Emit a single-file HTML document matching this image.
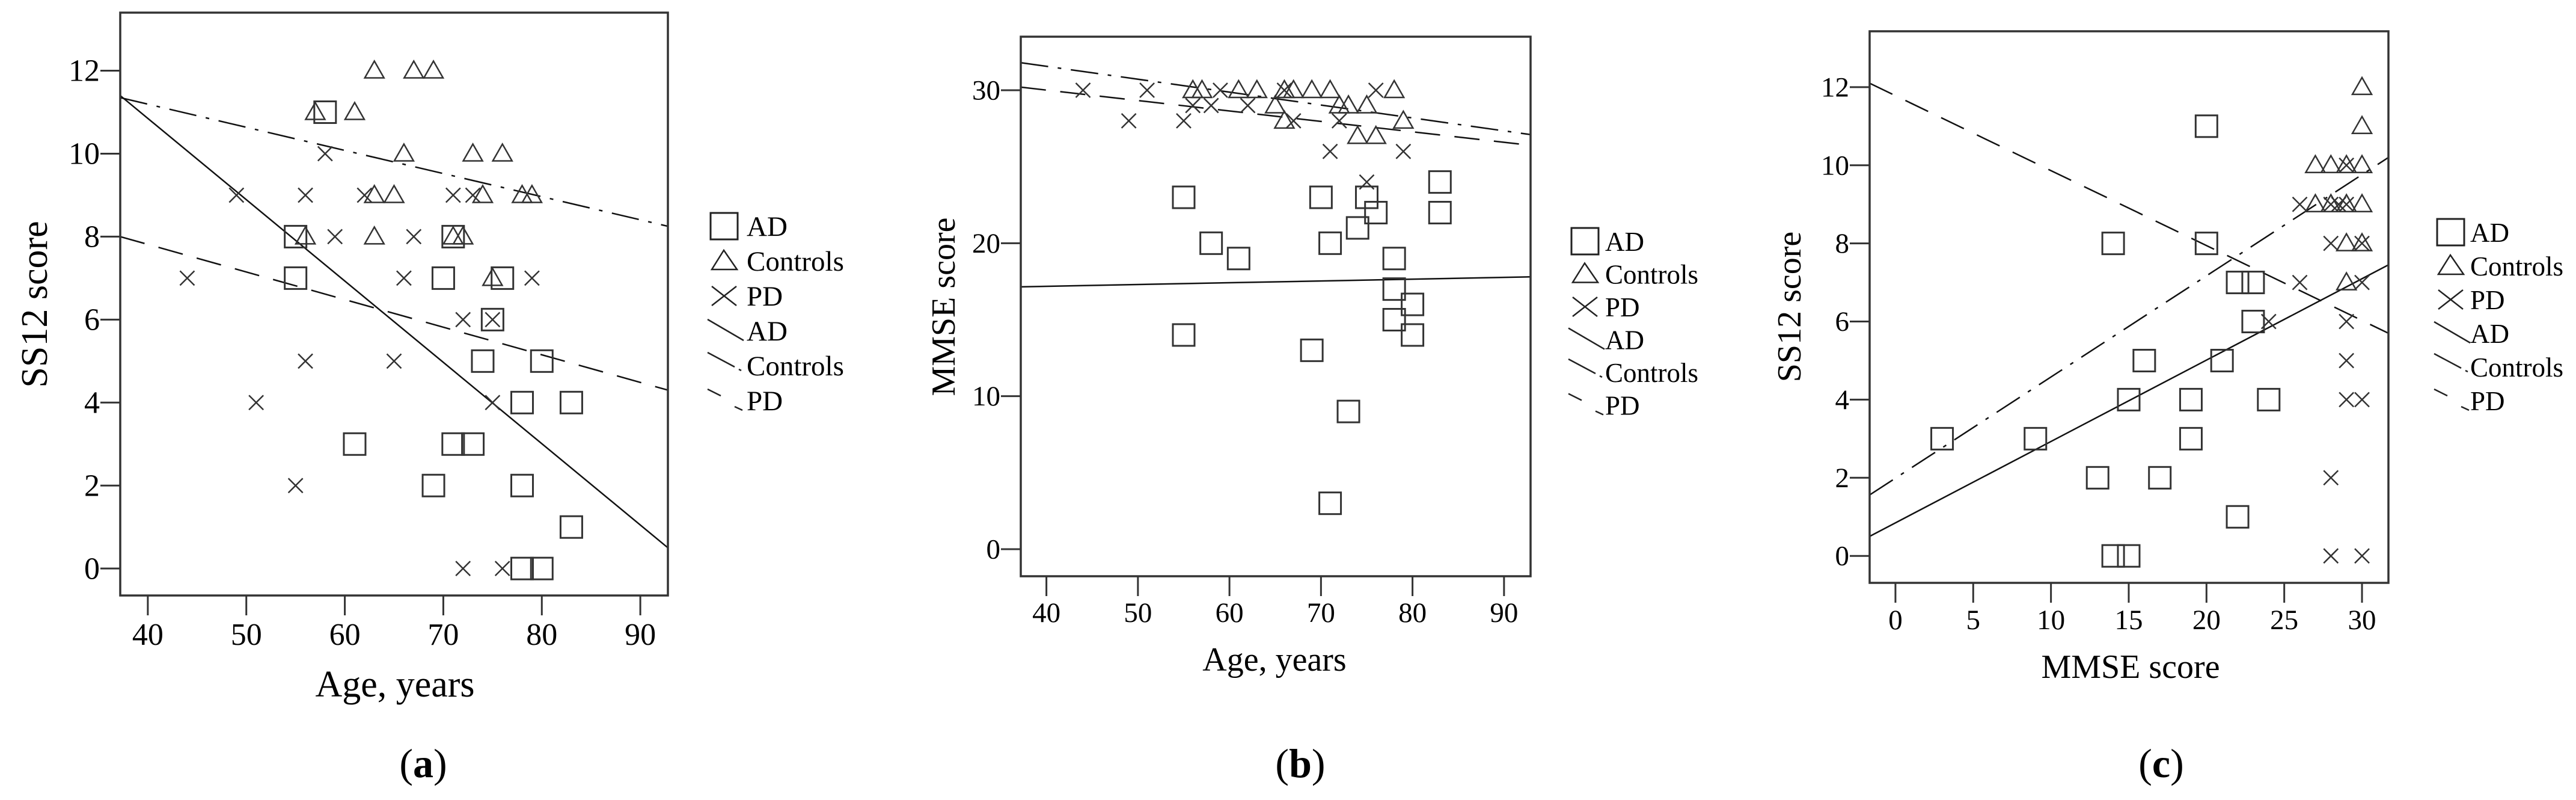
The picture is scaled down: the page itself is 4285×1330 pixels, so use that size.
<!DOCTYPE html>
<html><head><meta charset="utf-8"><style>
html,body{margin:0;padding:0;background:#fff;}
svg text{font-family:"Liberation Serif",serif;fill:#000;}
</style></head><body>
<svg id="fig" xmlns="http://www.w3.org/2000/svg" width="4285" height="1325" viewBox="0 0 4285 1325"></svg>
<script>
// ---------- Panel (a): Age vs SS12 ----------
const aAdX = [58,55,71,55,70,76,75,74,80,78,83,61,71,73,69,78,83,78,80];
const aAdY = [11,8,8,7,7,7,6,5,5,4,4,3,3,3,2,2,1,0,0];
const aCtX = [63,67,69,57,61,66,73,76,63,65,74,78,79,56,63,71,72,75];
const aCtY = [12,12,12,11,11,10,10,10,9,9,9,9,9,8,8,8,8,7];
const aPdX = [58,49,56,62,71,73,59,67,44,66,79,72,75,56,65,51,75,55,72,76];
const aPdY = [10,9,9,9,9,9,8,8,7,7,7,6,6,5,5,4,4,2,0,0];
const aFitAD = [11.4, 0.5];     // y at x-min, x-max
const aFitCt = [11.35, 8.25];
const aFitPd = [8.0, 4.3];
const aXTicks = [40,50,60,70,80,90];
const aYTicks = [0,2,4,6,8,10,12];

// ---------- Panel (b): Age vs MMSE ----------
const bAdX = [55,58,61,55,70,71,69,73,71,74,75,76,78,78,78,80,80,83,83];
const bAdY = [23,20,19,14,23,20,13,9,3,21,23,22,19,17,15,16,14,24,22];
const bCtX = [56,57,61,63,66,67,69,71,78,65,72,73,75,66,79,74,76];
const bCtY = [30,30,30,30,30,30,30,30,30,29,29,29,29,28,28,27,27];
const bPdX = [44,51,59,66,76,56,58,62,49,55,67,72,71,79,75];
const bPdY = [30,30,30,30,30,29,29,29,28,28,28,28,26,26,24];
const bFitAD = [17.15, 17.8];
const bFitCt = [31.8, 27.1];
const bFitPd = [30.2, 26.4];
const bXTicks = [40,50,60,70,80,90];
const bYTicks = [0,10,20,30];

// ---------- Panel (c): MMSE vs SS12 ----------
const cAdX = [3,9,14,15,16,13,17,14,15,19,19,20,20,21,22,22,23,23,24];
const cAdY = [3,3,8,4,5,2,2,0,0,4,3,11,8,5,1,7,7,6,4];
const cCtX = [30,30,27,28,29,30,27,28,29,30,29,30,29];
const cCtY = [12,11,10,10,10,10,9,9,9,9,8,8,7];
const cPdX = [26,28,28.5,29,29,28,30,26,30,24,29,29,29,30,28,28,30];
const cPdY = [9,9,9,9,10,8,8,7,7,6,6,5,4,4,2,0,0];
const cFitAD = [0.5, 7.45];
const cFitCt = [1.56, 10.2];
const cFitPd = [12.1, 5.7];
const cXTicks = [0,5,10,15,20,25,30];
const cYTicks = [0,2,4,6,8,10,12];

const NS = "http://www.w3.org/2000/svg";
const svg = document.getElementById('fig');
function mk(tag, attrs, parent){
  const e = document.createElementNS(NS, tag);
  for (const k in attrs) e.setAttribute(k, attrs[k]);
  (parent||svg).appendChild(e);
  return e;
}
const DASH = "42 24";
const DASHDOT = "46 16 6 16";

function drawPanel(P){
  const g = mk('g', {});
  
  
  const sx = v => P.L + (v - P.xmin) / (P.xmax - P.xmin) * (P.R - P.L);
  const sy = v => P.B - (v - P.ymin) / (P.ymax - P.ymin) * (P.B - P.T);
  // ticks
  P.xt.forEach(t => {
    const l = mk('line', {x1:sx(t), x2:sx(t), y1:P.B, y2:P.B+33, stroke:'#333', 'stroke-width':3}, g);
    
    
    const tx = mk('text', {x:sx(t), y:P.xlb, 'text-anchor':'middle', 'font-size':P.tf}, g);
    tx.textContent = t;
    
    
  });
  P.yt.forEach(t => {
    const l = mk('line', {x1:P.L-33, x2:P.L, y1:sy(t), y2:sy(t), stroke:'#333', 'stroke-width':3}, g);
    
    
    const tx = mk('text', {x:P.L-34, y:sy(t)+P.tf*0.33, 'text-anchor':'end', 'font-size':P.tf}, g);
    tx.textContent = t;
    
    
  });
  // clip
  const cp = mk('clipPath', {id:'clip-'+P.id}, g);
  mk('rect', {x:P.L, y:P.T, width:P.R-P.L, height:P.B-P.T}, cp);
  const pg = mk('g', {'clip-path':'url(#clip-'+P.id+')'}, g);
  
  
  // fit lines
  const fits = [[P.fAD,'none','ad'],[P.fCt,DASHDOT,'controls'],[P.fPd,DASH,'pd']];
  fits.forEach(f => {
    const l = mk('line', {x1:sx(P.xmin), y1:sy(f[0][0]), x2:sx(P.xmax), y2:sy(f[0][1]), stroke:'#111', 'stroke-width':2.5, 'stroke-dasharray':f[1]}, pg);
    
    
  });
  // markers
  P.adX.forEach((x,i) => {
    const s = mk('rect', {x:sx(x)-18, y:sy(P.adY[i])-18, width:36, height:36, fill:'none', stroke:'#333', 'stroke-width':3}, pg);
    
    
  });
  P.ctX.forEach((x,i) => {
    const cx = sx(x), cy = sy(P.ctY[i]);
    const t = mk('polygon', {points:`${cx},${cy-16} ${cx-16},${cy+12} ${cx+16},${cy+12}`, fill:'none', stroke:'#333', 'stroke-width':2.5}, pg);
    
    
  });
  P.pdX.forEach((x,i) => {
    const cx = sx(x), cy = sy(P.pdY[i]);
    const p = mk('path', {d:`M${cx-12},${cy-12}L${cx+12},${cy+12}M${cx+12},${cy-12}L${cx-12},${cy+12}`, stroke:'#333', 'stroke-width':2.5, fill:'none'}, pg);
    
    
  });
  // frame
  const fr = mk('rect', {x:P.L, y:P.T, width:P.R-P.L, height:P.B-P.T, fill:'none', stroke:'#333', 'stroke-width':3.5}, g);
  
  
  // axis titles
  const xt = mk('text', {x:P.xtx, y:P.xty, 'text-anchor':'middle', 'font-size':P.af}, g);
  xt.textContent = P.xTitle;
  
  
  const yt = mk('text', {x:0, y:0, 'text-anchor':'middle', 'font-size':P.af, transform:`translate(${P.ytx},${P.yty}) rotate(-90)`}, g);
  yt.textContent = P.yTitle;
  
  
  // caption
  const cap = mk('text', {x:P.capx, y:1292, 'text-anchor':'middle', 'font-size':68}, g);
  cap.innerHTML = '(<tspan font-weight="bold">' + P.id + '</tspan>)';
  
  
  // legend
  const lg = mk('g', {}, g);
  
  
  const labels = ['AD','Controls','PD','AD','Controls','PD'];
  labels.forEach((lab, i) => {
    const by = P.lgy + i*P.lgs;
    const x0 = P.lgx;
    const cy = by - 16;
    let icon;
    if (i === 0) icon = mk('rect', {x:x0, y:cy-22, width:45, height:44, fill:'none', stroke:'#222', 'stroke-width':3}, lg);
    else if (i === 1) icon = mk('polygon', {points:`${x0+22},${cy-18} ${x0+2},${cy+14} ${x0+44},${cy+14}`, fill:'none', stroke:'#222', 'stroke-width':2.5}, lg);
    else if (i === 2) icon = mk('path', {d:`M${x0+2},${cy-16}L${x0+43},${cy+16}M${x0+43},${cy-16}L${x0+2},${cy+16}`, stroke:'#222', 'stroke-width':2.5}, lg);
    else if (i === 3) icon = mk('line', {x1:x0-5, y1:by-35, x2:x0+55, y2:by, stroke:'#222', 'stroke-width':2.5}, lg);
    else if (i === 4) icon = mk('path', {d:`M${x0-5},${by-38}L${x0+40},${by-14}M${x0+47},${by-10}L${x0+51},${by-8}`, stroke:'#222', 'stroke-width':2.5}, lg);
    else icon = mk('path', {d:`M${x0-5},${by-35}L${x0+17},${by-24}M${x0+40},${by-6}L${x0+53},${by}`, stroke:'#222', 'stroke-width':2.5}, lg);
    
    
    const t = mk('text', {x:P.lgtx, y:by, 'font-size':P.lf}, lg);
    t.textContent = lab;
    
    
  });
}

drawPanel({id:'a', L:200, R:1111, T:21, B:990, xmin:37.2, xmax:92.8, ymin:-0.65, ymax:13.4,
  xt:aXTicks, yt:aYTicks, xlb:1072, tf:52, af:62, xTitle:'Age, years', yTitle:'SS12 score',
  xtx:657, xty:1158, ytx:78, yty:506, capx:704,
  adX:aAdX, adY:aAdY, ctX:aCtX, ctY:aCtY, pdX:aPdX, pdY:aPdY, fAD:aFitAD, fCt:aFitCt, fPd:aFitPd,
  lgx:1182, lgtx:1242, lgy:392, lgs:58, lf:47});
drawPanel({id:'b', L:1698, R:2546, T:61, B:958, xmin:37.2, xmax:92.9, ymin:-1.77, ymax:33.5,
  xt:bXTicks, yt:bYTicks, xlb:1034, tf:47, af:56, xTitle:'Age, years', yTitle:'MMSE score',
  xtx:2120, xty:1115, ytx:1588, yty:510, capx:2163,
  adX:bAdX, adY:bAdY, ctX:bCtX, ctY:bCtY, pdX:bPdX, pdY:bPdY, fAD:bFitAD, fCt:bFitCt, fPd:bFitPd,
  lgx:2614, lgtx:2670, lgy:417, lgs:54.5, lf:45});
drawPanel({id:'c', L:3110, R:3973, T:52, B:969, xmin:-1.66, xmax:31.7, ymin:-0.69, ymax:13.43,
  xt:cXTicks, yt:cYTicks, xlb:1046, tf:47, af:56, xTitle:'MMSE score', yTitle:'SS12 score',
  xtx:3544, xty:1127, ytx:2995, yty:510, capx:3595,
  adX:cAdX, adY:cAdY, ctX:cCtX, ctY:cCtY, pdX:cPdX, pdY:cPdY, fAD:cFitAD, fCt:cFitCt, fPd:cFitPd,
  lgx:4054, lgtx:4109, lgy:402, lgs:56, lf:45});
</script>
</body></html>
